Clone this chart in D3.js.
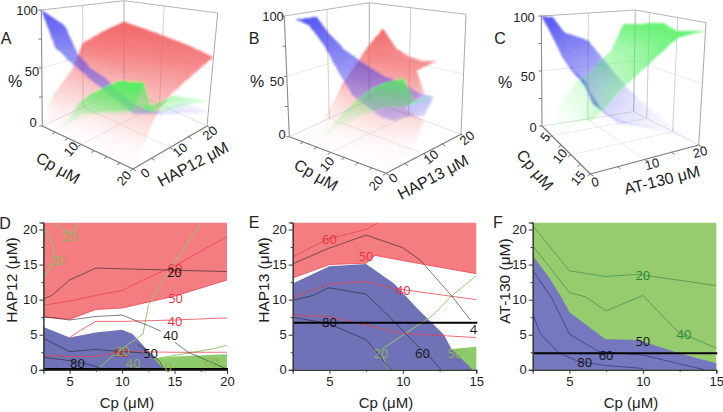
<!DOCTYPE html>
<html><head><meta charset="utf-8">
<script src="https://cdn.jsdelivr.net/npm/d3@7"></script>
<style>
html,body{margin:0;padding:0;background:#fff}
svg{display:block}
text{font-family:"Liberation Sans",Arial,sans-serif;fill:#222}
.cl{font-family:"Open Sans",sans-serif}
</style></head><body>
<svg id="c" width="723" height="412"></svg>
<script>
// ---------- 3D data: rows follow Cp, columns follow ligand concentration, values are percent ----------
const cpA=[2.5,5,7.5,10,15,20], hapRedA=[0,2.5,5,7.5,10,15,20];
const redA=[[3,22,31,41,63,70,76],[3,20,30,42,60,68,74],[3,18,28,40,55,66,72],[3,16,27,38,50,62,70],[2,14,27,37,45,56,66],[1,10,26,36,42,51,61]];
const cpBlueA=[2.5,5,7.5,10,12.5,15,20], hapBlueA=[0,2.5,5,10,15,20];
const blueA=[[100,93,null,null,null,null],[71,87,null,null,null,null],[63,65,null,null,null,null],[57,57,null,null,null,null],[51,53,null,null,null,null],[47,46,36,19,15,12],[38,35,32,26,20,12]];
const hapGreenA=[0,2.5,5,10,15,20];
const greenA=[[0,0,0,0,0,0],[2,3,3,2,1,0],[10,25,10,4,2,1],[24,37,21,8,3,2],[33,53,37,21,12,9],[40,58,33,40,32,22]];

const cpRedB=[2.5,5,7.5,10,12.5,15,16.5,20], hapRedB=[0,2.5,5,7.5,10,15,20];
const redB=[[0,0,0,1,4,33,57],[1,3,8,18,34,54,76],[1,5,15,28,40,60,59],[1,6,18,30,40,56,54],[1,6,18,30,40,53,53],[1,5,16,28,38,53,56],[1,4,12,20,30,36,null],[1,3,4,9,25,null,null]];
const cpBlueB=[2.5,5,7.5,10,12.5,15,17.5,20], hapBlueB=[2.5,5,7.5,10,12.5];
const blueB=[[96,95,95,null,null],[92,86,80,null,null],[78,74,70,null,null],[59,62,64,null,null],[43,51,59,null,null],[38,47,55,null,null],[33,44,54,47,40],[33,33,31,28,40]];
const cpGreenB=[5,7.5,10,12.5,15,17.5,20], hapGreenB=[0,5,7.5,12.5];
const greenB=[[1,2,1,null],[4,8,6,null],[18,24,18,null],[33,40,25,null],[45,50,32,null],[54,56,35,33],[61,61,42,40]];

const cpC=[2.5,5,7.5,10,12.5,15], atBlueC=[0,2.5,5,7.5,10,15,20];
const blueC=[[100,98,83,79,74,45,16],[88,70,60,50,40,25,12],[75,60,48,38,30,18,8],[68,58,35,25,19,10,4],[67,45,34,28,22,12,3],[54,44,34,30,26,15,2]];
const atGreenC=[0,2.5,5,7.5,10,15,17.5,20];
const greenC=[[0,4,24,37,43,63,87,86],[1,5,26,38,48,68,85,90],[10,15,32,44,55,72,88,93],[22,28,42,52,60,78,90,88],[35,40,52,60,68,85,92,91],[41,48,60,67,75,92,93,93]];

// ---------- contour map data: [Cp, ligand] ----------
const redEdgeD=[[2.5,7.5],[5,7.2],[7.5,8.6],[10,8.8],[15,10.5],[20,12.8]];
const blueEdgeD=[[2.5,6.1],[5,4.6],[7.5,5.3],[10,5.7],[11,5.1],[12,3.5],[14,0]];
const greenEdgeD=[[13,1.6],[15,1.9],[20,2.2]];
const blackLinesD=[
 [[2.5,10.1],[3.3,10.6],[5,12.8],[7.5,14.5],[10,14.4],[15,14.2],[20,14]],
 [[2.5,7.6],[5,7.1],[7.5,7.6],[10,7.8],[12.5,6.3],[13.7,5.5]],
 [[15,3.95],[16.3,2.5],[20,0.1]],
 [[2.5,4.5],[5,2.6],[7.5,2.9],[10,2.6],[12,2.4]],
 [[2.5,1.8],[5,1.3],[7,0.7],[8,0.2]],
 [[11.5,3.6],[12.5,2.6],[13.6,1.2],[14,0]]];
const redLinesD=[
 [[5,4.6],[6,5.6],[7.5,6.9],[10,6.9],[15,7.1],[20,7.4]],
 [[2.5,9.2],[5,9.8],[7.5,10.6],[10,11.3],[12,12.8],[15,14.8],[20,19]],
 [[2.5,2.1],[5,1.9],[7.5,1.9],[10,2.6],[15,2.5],[20,2.5]],
 [[2.5,7.5],[5,7.2],[7.5,8.6],[10,8.8],[15,10.5],[20,12.8]]];
const greenLinesD=[
 [[7.5,0],[7.9,0.4],[9.5,2.5],[12,5.1],[12.5,9.2],[14.6,14.4],[17.4,20.6]],
 [[2.5,20.6],[3.4,17.8],[3.6,15.9],[2.5,12.8]],
 [[3.5,20.9],[4.4,20],[5.3,19.5],[5.8,20.9]],
 [[13.2,1.6],[18.7,3],[20,3.5]]];
const labelsD=[[5.04,19.05,"20","g"],[3.83,15.6,"20","g"],[15.04,14.5,"60","r"],[14.98,14,"20","k"],[15.1,10.26,"50","r"],[15.04,6.9,"40","r"],[14.63,5,"40","k"],[12.72,2.38,"50","k"],[5.74,1,"80","k"],[10.02,2.5,"60","k"],[10.02,2.5,"60","r"],[10.02,2.7,"20","g"],[11.07,1,"40","g"],[14.4,0.4,"0","g"],[18.53,1.1,"60","g"]];
const barD=0.1;

const redEdgeE=[[2.5,13.1],[5,15],[7.5,15.2],[8.1,16.3],[11.5,15],[15,13.7]];
const blueEdgeE=[[2.5,12.3],[5,14.75],[7.5,15.1],[9.4,12.3],[11,8.7],[12.8,5],[13.3,3],[14.75,0]];
const greenEdgeE=[[13,2.9],[15,3.3]];
const blackLinesE=[
 [[2.5,15.1],[4.93,17.3],[7.5,19.2],[10,17.4],[11.2,15.6],[13.3,10.6],[14.6,7.1]],
 [[2.5,9.9],[3.9,10.6],[4.93,11.7],[7.5,10.8],[9.4,6.9],[10.8,3.8],[11.9,1.7],[12.6,0]],
 [[2.5,7.5],[4.93,6.6],[7.5,4.3],[9.2,0]]];
const redLinesE=[
 [[2.5,16.1],[4.93,18.7],[7.5,20],[8.3,21]],
 [[2.5,10.3],[4.93,12.2],[7.5,12.6],[9.4,11.6],[15,10]],
 [[2.5,7.8],[4.93,7.6],[7.5,6.4],[9.9,5.2],[15,4.6]],
 [[2.5,13.1],[5,15],[7.5,15.2],[8.1,16.3],[11.5,15],[15,13.7]]];
const greenLinesE=[[[8.6,3],[12,7.7],[13.3,10.5],[15,13.4]],[[8.6,1.9],[9.1,0]]];
const labelsE=[[5,18.7,"60","r"],[7.5,16.2,"50","r"],[10.03,11.35,"40","r"],[5,6.85,"80","k"],[11.34,2.46,"60","k"],[14.8,5.8,"4","k"],[8.5,2.36,"20","g"],[13.54,2.46,"50","g"]];
const barE=6.7;

const blueEdgeF=[[2.5,16.3],[3.6,13.2],[4.5,10.2],[5,8.2],[7.45,4.35],[9.7,4.25],[12.7,2.2],[15,0.95]];
const greenLinesF=[
 [[2.5,20.6],[5,14.1],[7.45,13.3],[9.7,13.6],[15,12]],
 [[2.5,17.7],[5,11],[6.1,10.4],[7.5,8.4],[10,10.6],[12.4,5.4],[15,3.1]]];
const blueLinesF=[
 [[2.5,14.2],[3.8,10.2],[5,5.1],[7,2.6],[10,2.1],[14.2,0]],
 [[2.5,8],[3,5.2],[4.3,2.4],[5.6,1.2],[7.5,0.6],[10,0.2]]];
const labelsF=[[10,13.5,"20","g"],[12.8,5.06,"40","g"],[10,4.1,"50","k"],[7.5,2.13,"60","k"],[6.04,1.09,"80","k"]];
const barF=2.35;

// ---------- drawing ----------
const svg=d3.select("#c");
const defs=svg.append("defs");
defs.append("filter").attr("id","soft").attr("filterUnits","userSpaceOnUse").attr("x",0).attr("y",0)
  .attr("width",723).attr("height",412)
  .append("feGaussianBlur").attr("stdDeviation",0.8);

const zFrac=d3.scaleLinear().domain([0,100]).range([0,1]);
// opacity grows with the surface's own relative height
const alphaRed=d3.scaleLinear().domain([0,.15,.3,.5,.75,1]).range([0,.06,.2,.42,.75,.95]).clamp(true);
const alphaBlue=d3.scaleLinear().domain([0,.15,.3,.5,.7,1]).range([0,.1,.22,.42,.6,.88]).clamp(true);
const alphaGreen=d3.scaleLinear().domain([0,.2,.5,.75,1]).range([0,.08,.3,.55,.9]).clamp(true);
const styles={red:["#f25f60",alphaRed],blue:["#3c3cee",alphaBlue],green:["#52f062",alphaGreen]};

function panel3D(o){
  const g=svg.append("g");
  const cS=d3.scaleLinear().domain(o.cpDomain).range([0,1]);
  const hS=d3.scaleLinear().domain([0,20]).range([0,1]);
  const C=o.corners;
  const pr=(c,h,zf)=>{
    const w=(a,b,d,e)=>(1-c)*(1-h)*a+c*(1-h)*b+c*h*d+(1-c)*h*e;
    const fx=w(C.L[0],C.F[0],C.R[0],C.B[0]),fy=w(C.L[1],C.F[1],C.R[1],C.B[1]);
    const tx=w(C.Lt[0],C.Ft[0],C.Rt[0],C.Bt[0]),ty=w(C.Lt[1],C.Ft[1],C.Rt[1],C.Bt[1]);
    return [fx+(tx-fx)*zf,fy+(ty-fy)*zf];
  };
  const P=(cp,h,z)=>pr(cS(cp),hS(h),zFrac(z));
  const line=(a,b,col,w)=>g.append("line").attr("x1",a[0]).attr("y1",a[1]).attr("x2",b[0]).attr("y2",b[1]).attr("stroke",col).attr("stroke-width",w);
  const [c0,c1]=o.cpDomain;
  const wall="#cfcfcf";
  o.cpGrid.forEach(v=>{line(P(v,0,0),P(v,20,0),"#e6e6e6",.8);line(P(v,20,0),P(v,20,100),wall,1);});
  [10].forEach(v=>{line(P(c0,v,0),P(c1,v,0),"#e6e6e6",.8);line(P(c0,v,0),P(c0,v,100),wall,1);});
  [50].forEach(v=>{line(P(c0,0,v),P(c0,20,v),"#e4e4e4",.8);line(P(c0,20,v),P(c1,20,v),"#e4e4e4",.8);});
  line(P(c0,20,0),P(c0,20,100),"#bdbdbd",1.2);
  line(P(c1,20,0),P(c1,20,100),"#a9a9a9",1);
  line(P(c0,0,100),P(c0,20,100),"#b5b5b5",1);
  line(P(c0,20,100),P(c1,20,100),"#b5b5b5",1);
  line(P(c0,20,0),P(c1,20,0),"#d8d8d8",.8);
  line(P(c0,20,0),P(c0,0,0),"#d8d8d8",.8);
  const sg=g.append("g").attr("filter","url(#soft)");
  o.surfaces.forEach(s=>{
    const [col,al]=styles[s.kind];
    const top=d3.max(s.values.flat());
    const quads=[],n=6;
    s.values.forEach((row,i)=>{
      if(i===s.values.length-1)return;
      row.forEach((z00,j)=>{
        if(j===row.length-1)return;
        const z01=row[j+1],z10=s.values[i+1][j],z11=s.values[i+1][j+1];
        if([z00,z01,z10,z11].some(v=>v===null))return;
        const lerp=(u,v)=>{
          const cp=s.cp[i]+(s.cp[i+1]-s.cp[i])*u,h=s.lig[j]+(s.lig[j+1]-s.lig[j])*v;
          const z=(1-u)*(1-v)*z00+(1-u)*v*z01+u*(1-v)*z10+u*v*z11;
          return {p:P(cp,h,z),z};
        };
        for(let a=0;a<n;a++)for(let b=0;b<n;b++){
          const q=[lerp(a/n,b/n),lerp((a+1)/n,b/n),lerp((a+1)/n,(b+1)/n),lerp(a/n,(b+1)/n)];
          quads.push({pts:q.map(d=>d.p),z:d3.mean(q,d=>d.z)});
        }
      });
    });
    sg.append("g").selectAll("path").data(quads).join("path")
      .attr("d",d=>d3.line()(d.pts)+"Z").attr("fill",col).attr("fill-opacity",d=>al(d.z/top)).attr("shape-rendering","crispEdges");
  });
  const axc="#777";
  line(P(c0,0,0),P(c1,0,0),axc,1.1);
  line(P(c1,0,0),P(c1,20,0),axc,1.1);
  line(P(c0,0,0),P(c0,0,100),"#8c8c8c",1.1);
  o.cpTicks.forEach(v=>{const a=P(v,0,0);line(a,[a[0]-3,a[1]+2],axc,1);});
  [0,5,10,15,20].forEach(v=>{const a=P(c1,v,0);line(a,[a[0]+3,a[1]+2],axc,1);});
  [0,25,50,75,100].forEach(v=>{const a=P(c0,0,v);line(a,[a[0]-3,a[1]],axc,1);});
  o.texts.forEach(t=>{
    g.append("text").attr("text-anchor","middle").attr("dominant-baseline","central")
      .attr("font-size",t[3]).attr("transform",`translate(${t[0]},${t[1]}) rotate(${t[4]||0})`).text(t[2]);
  });
}

panel3D({cpDomain:[2.5,20],cpGrid:[10],cpTicks:[5,7.5,10,12.5,15,17.5,20],
  corners:{L:[42.3,126],F:[133,169],R:[207,126],B:[124,88],Lt:[41.3,10],Ft:[134,24],Rt:[217.7,13],Bt:[124,.7]},
  surfaces:[{kind:"red",cp:cpA,lig:hapRedA,values:redA},{kind:"blue",cp:cpBlueA,lig:hapBlueA,values:blueA},{kind:"green",cp:cpA,lig:hapGreenA,values:greenA}],
  texts:[[6,38,"A",16],[15,81,"%",16],[27,10,"100",13],[32,71,"50",13],[33,122,"0",13],[71,149,"10",13,-50],[124,178,"20",13,-50],[58,168,"Cp μM",16,30],[145,173,"0",13,-40],[180,150,"10",13,-40],[210,133,"20",13,-40],[193,164,"HAP12 μM",16,-28]]});
panel3D({cpDomain:[2.5,20],cpGrid:[10],cpTicks:[5,7.5,10,12.5,15,17.5,20],
  corners:{L:[289.3,136.7],F:[386,173.3],R:[461,134.3],B:[369.3,100],Lt:[284.3,16],Ft:[382,26],Rt:[466,14.3],Bt:[369.3,2.7]},
  surfaces:[{kind:"red",cp:cpRedB,lig:hapRedB,values:redB},{kind:"blue",cp:cpBlueB,lig:hapBlueB,values:blueB},{kind:"green",cp:cpGreenB,lig:hapGreenB,values:greenB}],
  texts:[[254,38,"B",16],[257,81,"%",16],[273,16,"100",13],[277,81,"50",13],[282,134,"0",13],[327,164,"10",13,-50],[376,183,"20",13,-50],[316,175,"Cp μM",16,30],[393,178,"0",13,-40],[431,157,"10",13,-40],[467,138,"20",13,-40],[433,177,"HAP13 μM",16,-28]]});
panel3D({cpDomain:[2.5,15],cpGrid:[5,10],cpTicks:[5,7.5,10,12.5,15],
  corners:{L:[542,126],F:[590.3,174],R:[698.7,145],B:[633.7,111.7],Lt:[541.3,16],Ft:[593.7,44],Rt:[706,22.7],Bt:[635.3,10]},
  surfaces:[{kind:"blue",cp:cpC,lig:atBlueC,values:blueC},{kind:"green",cp:cpC,lig:atGreenC,values:greenC}],
  texts:[[500,38,"C",16],[505,82,"%",16],[524,17,"100",13],[528,76,"50",13],[533,127,"0",13],[545,137,"5",13,-50],[560,156,"10",13,-50],[578,178,"15",13,-50],[535,170,"Cp μM",16,50],[595,182,"0",13,-15],[652,164,"10",13,-15],[700,152,"20",13,-15],[662,180,"AT-130 μM",16,-14]]});

const labelColor={r:"#e8323f",k:"#111",g:"#8fb25a"};
function panel2D(o){
  const g=svg.append("g");
  const x=d3.scaleLinear().domain(o.xDomain).range(o.xRange);
  const y=d3.scaleLinear().domain([0,21]).range([369.8,222.5]);
  const clipId="clip"+o.key;
  defs.append("clipPath").attr("id",clipId).append("rect").attr("x",o.xRange[0]).attr("y",222.5).attr("width",o.xRange[1]-o.xRange[0]+1).attr("height",147.5);
  const inner=g.append("g").attr("clip-path",`url(#${clipId})`);
  const L=d3.line().x(d=>x(d[0])).y(d=>y(d[1]));
  const below=d3.area().x(d=>x(d[0])).y0(y(0)).y1(d=>y(d[1]));
  const above=d3.area().x(d=>x(d[0])).y0(y(21)).y1(d=>y(d[1]));
  if(o.background) inner.append("path").attr("d",above([[o.xDomain[0],0],[o.xDomain[1],0]])).attr("fill",o.background);
  if(o.green) inner.append("path").attr("d",below(o.green)).attr("fill","#8ecb6a");
  if(o.red) inner.append("path").attr("d",above(o.red)).attr("fill","#f47d82");
  if(o.blue) inner.append("path").attr("d",below(o.blue)).attr("fill",o.blueFill||"#6f72b6");
  const stroke=(arr,col,w,op)=>arr.forEach(l=>inner.append("path").attr("d",L(l)).attr("fill","none").attr("stroke",col).attr("stroke-width",w).attr("stroke-opacity",op));
  stroke(o.greenLines||[],o.greenLineColor||"#95c870",1,1);
  stroke(o.redLines||[],"#e8404c",1,.75);
  stroke(o.blackLines||[],"#222",.9,.65);
  stroke(o.blueLines||[],"#3d3d88",1,.85);
  if(o.bar!==undefined) inner.append("line").attr("x1",o.xRange[0]).attr("x2",o.xRange[1]+3).attr("y1",y(o.bar)).attr("y2",y(o.bar)).attr("stroke","#000").attr("stroke-width",2);
  const ax=g.append("g").attr("transform",`translate(0,${y(0)})`).call(d3.axisBottom(x).tickValues(o.xTicks).tickSize(4).tickPadding(3).tickFormat(d3.format("d")));
  const axm=g.append("g").attr("transform",`translate(0,${y(0)})`).call(d3.axisBottom(x).tickValues(o.xMinor).tickSize(2).tickFormat(""));
  const ay=g.append("g").attr("transform",`translate(${o.xRange[0]},0)`).call(d3.axisLeft(y).tickValues([0,5,10,15,20]).tickSize(4).tickPadding(2).tickFormat(d3.format("d")));
  const aym=g.append("g").attr("transform",`translate(${o.xRange[0]},0)`).call(d3.axisLeft(y).tickValues([2.5,7.5,12.5,17.5]).tickSize(2).tickFormat(""));
  [ax,axm,ay,aym].forEach(a=>{a.selectAll("text").attr("font-size",13).attr("font-family","Liberation Sans").attr("fill","#222");a.selectAll("line,path").attr("stroke","#333");});
  (o.labels||[]).forEach(d=>{
    g.append("text").attr("class","cl").attr("x",x(d[0])).attr("y",y(d[1])).attr("text-anchor","middle").attr("dominant-baseline","central")
     .attr("font-size",13).style("fill",(o.labelColors||labelColor)[d[3]]).text(d[2]);
  });
  g.append("text").attr("x",o.letter[0]).attr("y",o.letter[1]).attr("text-anchor","middle").attr("dominant-baseline","central").attr("font-size",16).text(o.key);
  g.append("text").attr("transform",`translate(${o.yLabel[0]},${o.yLabel[1]}) rotate(-90)`).attr("text-anchor","middle").attr("dominant-baseline","central").attr("font-size",15.5).text(o.yText);
  g.append("text").attr("x",o.xLabel).attr("y",402).attr("text-anchor","middle").attr("dominant-baseline","central").attr("font-size",15).text("Cp (μM)");
}
panel2D({key:"D",xDomain:[2.5,20],xRange:[43.4,227],xTicks:[5,10,15,20],xMinor:[7.5,12.5,17.5],
  red:redEdgeD,blue:blueEdgeD,green:greenEdgeD,blackLines:blackLinesD,redLines:redLinesD,greenLines:greenLinesD,labels:labelsD,bar:barD,
  letter:[5,223],yLabel:[11,280],yText:"HAP12 (μM)",xLabel:127});
panel2D({key:"E",xDomain:[2.5,15],xRange:[292.7,476.3],xTicks:[5,10,15],xMinor:[7.5,12.5],
  red:redEdgeE,blue:blueEdgeE,green:greenEdgeE,blackLines:blackLinesE,redLines:redLinesE,greenLines:greenLinesE,labels:labelsE,bar:barE,
  letter:[254,222],yLabel:[263,280],yText:"HAP13 (μM)",xLabel:386});
panel2D({key:"F",xDomain:[2.5,15],xRange:[532.7,716.3],xTicks:[5,10,15],xMinor:[7.5,12.5],
  background:"#96cc6e",blue:blueEdgeF,blueFill:"#7678bf",blueLines:blueLinesF,greenLines:greenLinesF,greenLineColor:"#5e9c5a",labels:labelsF,bar:barF,
  labelColors:{g:"#2a8a3a",k:"#111",r:"#e8323f"},
  letter:[498,222],yLabel:[504,281],yText:"AT-130 (μM)",xLabel:631});
</script>
</body></html>
